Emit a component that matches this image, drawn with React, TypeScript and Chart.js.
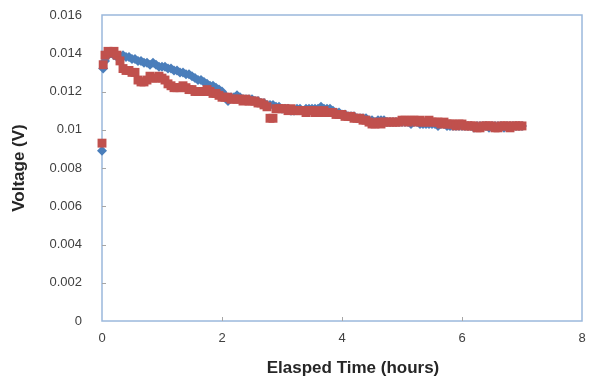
import React, { useEffect, useRef } from "react";
import { Chart, registerables } from "chart.js";

Chart.register(...registerables);

// Elapsed time (hours)
const TIME = [
  0, 0.02, 0.05, 0.1, 0.15, 0.2, 0.25, 0.3, 0.35, 0.4, 0.45, 0.5, 0.55, 0.6, 0.65, 0.7, 0.75,
  0.8, 0.85, 0.9, 0.95,
  1.0, 1.05, 1.1, 1.15, 1.2, 1.25, 1.3, 1.35, 1.4, 1.45, 1.5, 1.55, 1.6, 1.65, 1.7, 1.75, 1.8, 1.85, 1.9, 1.95,
  2.0, 2.05, 2.1, 2.15, 2.2, 2.25, 2.3, 2.35, 2.4, 2.45, 2.5, 2.55, 2.6, 2.65, 2.7, 2.75, 2.8, 2.85, 2.9, 2.95,
  3.0, 3.05, 3.1, 3.15, 3.2, 3.25, 3.3, 3.35, 3.4, 3.45, 3.5, 3.55, 3.6, 3.65, 3.7, 3.75, 3.8, 3.85, 3.9, 3.95,
  4.0, 4.05, 4.1, 4.15, 4.2, 4.25, 4.3, 4.35, 4.4, 4.45, 4.5, 4.55, 4.6, 4.65, 4.7, 4.75, 4.8, 4.85, 4.9, 4.95,
  5.0, 5.05, 5.1, 5.15, 5.2, 5.25, 5.3, 5.35, 5.4, 5.45, 5.5, 5.55, 5.6, 5.65, 5.7, 5.75, 5.8, 5.85, 5.9, 5.95,
  6.0, 6.05, 6.1, 6.15, 6.2, 6.25, 6.3, 6.35, 6.4, 6.45, 6.5, 6.55, 6.6, 6.65, 6.7, 6.75, 6.8, 6.85, 6.9, 6.95,
  7.0,
];

// Blue series (diamonds), volts
const BLUE = [
  0.0089, 0.0132, 0.0136, 0.0139, 0.014, 0.0139, 0.0138, 0.0138, 0.0139, 0.0138, 0.0138, 0.0137, 0.0137, 0.0136, 0.0136, 0.0135, 0.0135,
  0.0134, 0.0135, 0.0134, 0.0133,
  0.0133, 0.0133, 0.0132, 0.0132, 0.0131, 0.0131, 0.013, 0.013, 0.0129, 0.0129, 0.0128, 0.0127, 0.0126, 0.0126, 0.0125, 0.0124, 0.0123, 0.0123, 0.0122, 0.0121,
  0.012, 0.0118, 0.0115, 0.0117, 0.0117, 0.0118, 0.0117, 0.0116, 0.0116, 0.0116, 0.0116, 0.0115, 0.0115, 0.0114, 0.0114, 0.0113, 0.0113, 0.0113, 0.0112, 0.0112,
  0.0111, 0.0111, 0.0111, 0.011, 0.011, 0.0111, 0.0111, 0.011, 0.0111, 0.0111, 0.0111, 0.0111, 0.0111, 0.0112, 0.0111, 0.0111, 0.0111, 0.011, 0.0109, 0.0109,
  0.0108, 0.0108, 0.0107, 0.0107, 0.0107, 0.0106, 0.0106, 0.0106, 0.0106, 0.0105, 0.0105, 0.0104, 0.0105, 0.0105, 0.0105, 0.0104, 0.0104, 0.0104, 0.0104, 0.0104,
  0.0104, 0.0104, 0.0104, 0.0103, 0.0104, 0.0104, 0.0103, 0.0103, 0.0103, 0.0103, 0.0103, 0.0103, 0.0102, 0.0103, 0.0103, 0.0102, 0.0102, 0.0102, 0.0102, 0.0102,
  0.0102, 0.0102, 0.0102, 0.0102, 0.0101, 0.0102, 0.0102, 0.0102, 0.0102, 0.0101, 0.0102, 0.0102, 0.0102, 0.0102, 0.0101, 0.0102, 0.0102, 0.0102, 0.0102, 0.0102,
  0.0102,
];

// Red series (squares), volts
const RED = [
  0.0093, 0.0134, 0.0139, 0.0141, 0.014, 0.0141, 0.0139, 0.0136, 0.0132, 0.0131, 0.0131, 0.013, 0.013, 0.0126, 0.0125, 0.0125, 0.0126,
  0.0128, 0.0127, 0.0127, 0.0128,
  0.0127, 0.0126, 0.0124, 0.0123, 0.0122, 0.0122, 0.0122, 0.0123, 0.0122, 0.0121, 0.0121, 0.012, 0.012, 0.012, 0.012, 0.0121, 0.012, 0.0119, 0.0119, 0.0118,
  0.0117, 0.0117, 0.0117, 0.0116, 0.0116, 0.0116, 0.0116, 0.0115, 0.0116, 0.0115, 0.0115, 0.0115, 0.0114, 0.0114, 0.0113, 0.0112, 0.0106, 0.0106, 0.0111, 0.0111,
  0.0111, 0.0111, 0.011, 0.0111, 0.011, 0.011, 0.011, 0.011, 0.0109, 0.011, 0.011, 0.0109, 0.011, 0.0109, 0.011, 0.0109, 0.0109, 0.0109, 0.0108, 0.0108,
  0.0108, 0.0107, 0.0107, 0.0107, 0.0106, 0.0106, 0.0106, 0.0105, 0.0105, 0.0104, 0.0103, 0.0103, 0.0104, 0.0103, 0.0104, 0.0104, 0.0104, 0.0104, 0.0104, 0.0104,
  0.0105, 0.0105, 0.0104, 0.0105, 0.0105, 0.0104, 0.0105, 0.0104, 0.0104, 0.0105, 0.0104, 0.0104, 0.0104, 0.0103, 0.0104, 0.0103, 0.0103, 0.0103, 0.0102, 0.0103,
  0.0103, 0.0102, 0.0102, 0.0102, 0.0102, 0.0101, 0.0101, 0.0102, 0.0102, 0.0102, 0.0102, 0.0101, 0.0101, 0.0102, 0.0102, 0.0102, 0.0101, 0.0102, 0.0102, 0.0102,
  0.0102,
];

const X_TICKS = [0, 2, 4, 6, 8];
const Y_TICKS = [0, 0.002, 0.004, 0.006, 0.008, 0.01, 0.012, 0.014, 0.016];
const Y_TICK_LABELS = ["0", "0.002", "0.004", "0.006", "0.008", "0.01", "0.012", "0.014", "0.016"];
const X_TITLE = "Elasped Time (hours)";
const Y_TITLE = "Voltage (V)";

const FONT = "'Liberation Sans', Arial, sans-serif";

const framePlugin = {
  id: "frame",
  beforeDatasetsDraw(chart: any) {
    const { ctx, chartArea: a, scales } = chart;
    ctx.save();
    ctx.strokeStyle = "#9BB8DC";
    ctx.lineWidth = 1.5;
    ctx.strokeRect(a.left, a.top, a.right - a.left, a.bottom - a.top);
    ctx.strokeStyle = "#A6A6A6";
    ctx.lineWidth = 1;
    X_TICKS.slice(1, -1).forEach((v) => {
      const x = Math.round(scales.x.getPixelForValue(v)) + 0.5;
      ctx.beginPath();
      ctx.moveTo(x, a.bottom);
      ctx.lineTo(x, a.bottom - 4);
      ctx.stroke();
    });
    Y_TICKS.slice(1, -1).forEach((v) => {
      const y = Math.round(scales.y.getPixelForValue(v)) + 0.5;
      ctx.beginPath();
      ctx.moveTo(a.left, y);
      ctx.lineTo(a.left + 4, y);
      ctx.stroke();
    });
    ctx.restore();
  },
  afterDraw(chart: any) {
    const { ctx, chartArea: a } = chart;
    ctx.save();
    ctx.fillStyle = "#262626";
    ctx.font = `bold 17px ${FONT}`;
    ctx.textAlign = "center";
    ctx.textBaseline = "middle";
    ctx.fillText(X_TITLE, (a.left + a.right) / 2 + 11, 368);
    ctx.restore();
  },
};

export default function App() {
  const ref = useRef<HTMLCanvasElement | null>(null);
  useEffect(() => {
    if (!ref.current) return;
    const chart = new Chart(ref.current, {
      type: "scatter",
      data: {
        datasets: [
          {
            label: "Red",
            data: TIME.map((t, i) => ({ x: t, y: RED[i] })),
            pointStyle: "rect",
            pointRadius: 6.3,
            backgroundColor: "#C0504D",
            borderColor: "#C0504D",
            borderWidth: 0,
            showLine: false,
            clip: false,
          },
          {
            label: "Blue",
            data: TIME.map((t, i) => ({ x: t, y: BLUE[i] })),
            pointStyle: "rectRot",
            pointRadius: 5,
            backgroundColor: "#4A7EBB",
            borderColor: "#4A7EBB",
            borderWidth: 0,
            showLine: false,
            clip: false,
          },
        ],
      },
      options: {
        animation: false,
        responsive: true,
        maintainAspectRatio: false,
        layout: { autoPadding: false, padding: { top: 15, right: 8, left: 0, bottom: 0 } },
        plugins: { legend: { display: false }, tooltip: { enabled: false } },
        scales: {
          x: {
            type: "linear",
            min: 0,
            max: 8,
            afterFit: (s: any) => {
              s.height = 60;
              s.paddingLeft = 0;
              s.paddingRight = 0;
            },
            afterBuildTicks: (s: any) => {
              s.ticks = X_TICKS.map((v) => ({ value: v }));
            },
            grid: { display: false, drawTicks: false },
            border: { display: false },
            ticks: {
              padding: 10,
              color: "#404040",
              font: { family: FONT, size: 13 },
              callback: (v: any) => String(v),
            },
            title: { display: false },
          },
          y: {
            type: "linear",
            min: 0,
            max: 0.016,
            afterFit: (s: any) => {
              s.width = 102;
              s.paddingTop = 0;
              s.paddingBottom = 0;
            },
            afterBuildTicks: (s: any) => {
              s.ticks = Y_TICKS.map((v) => ({ value: v }));
            },
            grid: { display: false, drawTicks: false },
            border: { display: false },
            ticks: {
              padding: 20,
              color: "#404040",
              font: { family: FONT, size: 13 },
              callback: (_v: any, i: number) => Y_TICK_LABELS[i],
            },
            title: {
              display: true,
              text: Y_TITLE,
              color: "#262626",
              font: { family: FONT, size: 17, weight: "bold" },
              padding: { top: 9, bottom: 0 },
            },
          },
        },
      },
      plugins: [framePlugin],
    });
    return () => chart.destroy();
  }, []);
  return (
    <div style={{ position: "fixed", left: 0, top: 0, width: 590, height: 381, background: "#fff" }}>
      <canvas ref={ref} />
    </div>
  );
}
